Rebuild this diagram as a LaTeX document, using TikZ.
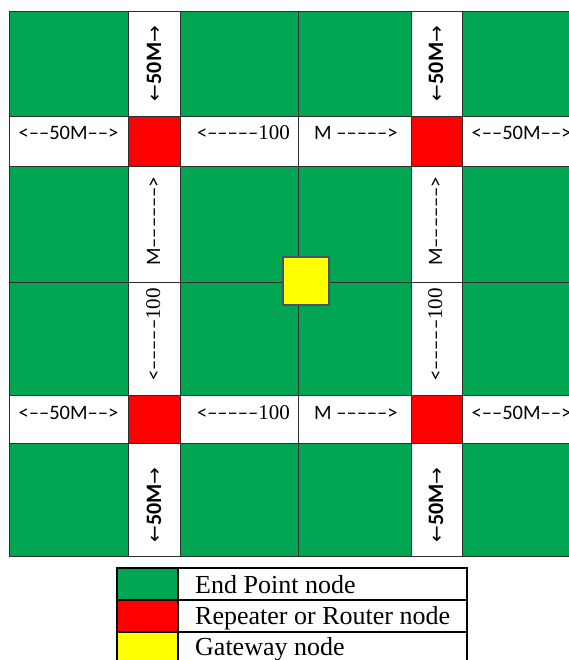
\documentclass[tikz,border=0pt]{standalone}
\usepackage{fontspec}
\setmainfont{Liberation Serif}
\newfontfamily\calfont{Carlito}
\newfontfamily\dvfont{DejaVu Sans}
\newfontfamily\timesfont{Liberation Serif}
\definecolor{epgreen}{RGB}{0,166,81}
\definecolor{routerred}{RGB}{255,0,0}
\definecolor{gwyellow}{RGB}{255,255,0}
\definecolor{gwborder}{RGB}{68,84,106}
\definecolor{gridline}{RGB}{45,45,45}
\newcommand{\hsz}{\fontsize{20.5}{22}\selectfont}
\newcommand{\serifnum}[1]{{\timesfont\fontsize{21}{22}\selectfont #1}}
\newcommand{\larr}{{\dvfont\fontsize{20}{22}\selectfont ←}}
\newcommand{\rarr}{{\dvfont\fontsize{20}{22}\selectfont →}}
\begin{document}
\begin{tikzpicture}[x=1pt,y=-1pt,
  cell/.style={draw=gridline, line width=0.9pt},
  lbl/.style={inner sep=0pt, font=\calfont\hsz},
  vlbl/.style={inner sep=0pt, font=\calfont\hsz, rotate=90},
  legline/.style={draw=black, line width=1.6pt},
  legtext/.style={inner sep=0pt, anchor=base west, font=\timesfont\fontsize{26}{28}\selectfont}]
\useasboundingbox (0,0) rectangle (569,660);
\begin{scope}
\clip (0,0) rectangle (569,660);
% green end point cells
\foreach \xa/\xb in {9/128,180/298,298/411,462/581}
  \foreach \ya/\yb in {11/116,166/282,282/395,443/556}
    \filldraw[cell, fill=epgreen] (\xa,\ya) rectangle (\xb,\yb);
% white column stripes
\foreach \xa/\xb in {128/180,411/462}
  \foreach \ya/\yb in {11/116,166/282,282/395,443/556}
    \filldraw[cell, fill=white] (\xa,\ya) rectangle (\xb,\yb);
% white row stripes
\foreach \xa/\xb in {9/128,180/298,298/411,462/581}
  \foreach \ya/\yb in {116/166,395/443}
    \filldraw[cell, fill=white] (\xa,\ya) rectangle (\xb,\yb);
% red repeater cells
\foreach \xa/\xb in {128/180,411/462}
  \foreach \ya/\yb in {116/166,395/443}
    \filldraw[cell, fill=routerred] (\xa,\ya) rectangle (\xb,\yb);
% gateway
\filldraw[draw=gwborder, line width=2.8pt, fill=gwyellow] (283,257) rectangle (329,305);

% horizontal labels, top row
\node[lbl, anchor=base] (h1) at (68.5,140) {<––50M––>};
\node[lbl, anchor=base east] (h2) at (290,140) {<–––––\serifnum{100}};
\node[lbl, anchor=base west] (h3) at (314,140) {M –––––>};
\node[lbl, anchor=base] (h4) at (521.5,140) {<––50M––>};
% horizontal labels, bottom row
\node[lbl, anchor=base] (h5) at (68.5,419) {<––50M––>};
\node[lbl, anchor=base east] (h6) at (290,419) {<–––––\serifnum{100}};
\node[lbl, anchor=base west] (h7) at (314,419) {M –––––>};
\node[lbl, anchor=base] (h8) at (521.5,419) {<––50M––>};

% vertical labels, left column
\node[vlbl, anchor=base] (v1) at (161,63.5) {\larr{\fontsize{22}{24}\selectfont\bfseries 50M}\rarr};
\node[vlbl, anchor=base west] (v2) at (160,266) {M––––––>};
\node[vlbl, anchor=base east] (v3) at (160,288) {<–––––\serifnum{100}};
\node[vlbl, anchor=base] (v4) at (161,505) {\larr{\fontsize{22}{24}\selectfont\bfseries 50M}\rarr};
% vertical labels, right column
\node[vlbl, anchor=base] (v5) at (443,63.5) {\larr{\fontsize{22}{24}\selectfont\bfseries 50M}\rarr};
\node[vlbl, anchor=base west] (v6) at (442,266) {M––––––>};
\node[vlbl, anchor=base east] (v7) at (442,288) {<–––––\serifnum{100}};
\node[vlbl, anchor=base] (v8) at (443,505) {\larr{\fontsize{22}{24}\selectfont\bfseries 50M}\rarr};

% legend
\filldraw[legline, fill=epgreen] (117,568) rectangle (178,600);
\filldraw[legline, fill=routerred] (117,600) rectangle (178,632);
\filldraw[legline, fill=gwyellow] (117,632) rectangle (178,664);
\draw[legline] (117,568) rectangle (467,664);
\draw[legline] (117,600) -- (467,600);
\draw[legline] (117,632) -- (467,632);
\draw[legline] (178,568) -- (178,664);
\node[legtext] (l1) at (195,593) {End Point node};
\node[legtext] (l2) at (195,624) {Repeater or Router node};
\node[legtext] (l3) at (195,655) {Gateway node};
\end{scope}
\end{tikzpicture}
\end{document}
